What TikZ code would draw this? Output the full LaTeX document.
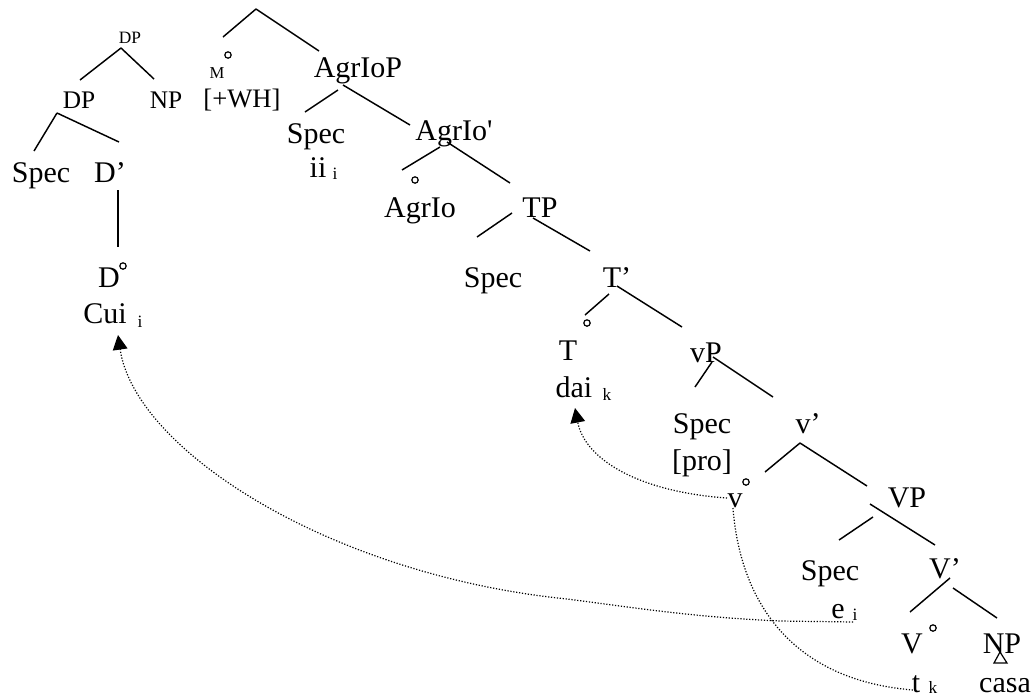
\documentclass[tikz,border=0pt]{standalone}
\usepackage{fontspec}
\setmainfont{Liberation Serif}
\usetikzlibrary{arrows.meta}
\begin{document}
\begin{tikzpicture}[x=0.75pt,y=-0.75pt,
 lbl/.style={anchor=base,inner sep=0pt,font=\fontsize{22.5}{27}\selectfont},
 mid/.style={anchor=base,inner sep=0pt,font=\fontsize{19}{23}\selectfont},
 whs/.style={anchor=base,inner sep=0pt,font=\fontsize{20}{24}\selectfont},
 sml/.style={anchor=base,inner sep=0pt,font=\fontsize{13}{16}\selectfont},
 msm/.style={anchor=base,inner sep=0pt,font=\fontsize{12.5}{15}\selectfont},
 subs/.style={anchor=base,inner sep=0pt,font=\fontsize{13}{16}\selectfont},
 branch/.style={line width=1.1pt},
 degc/.style={line width=0.9pt},
 trace/.style={line width=0.9pt,dash pattern=on 0.9pt off 1.3pt},
 mover/.style={trace,-{Triangle[length=11pt,width=11pt]}}]
\useasboundingbox (0,0) rectangle (1036,697);

% ---- left DP tree
\node[sml] (dptop) at (130,43) {DP};
\node[mid] (dpmid) at (79,108) {DP};
\node[mid] (npleft) at (166,108) {NP};
\node[lbl] (spec1) at (41,182) {Spec};
\node[lbl] (dbar) at (110,182) {D’};
\node[lbl] (dhead) at (109,287) {D};
\node[lbl] (cui) at (105,323) {Cui};
\node[subs] (cuii) at (140,327) {i};
\draw[degc] (123,266) coordinate (dcirc) circle[radius=2.4pt];
\draw[branch] (121,48) coordinate (dpA) -- (80,80) coordinate (dpAl);
\draw[branch] (dpA) -- (154,79) coordinate (dpAr);
\draw[branch] (57,113) coordinate (dpB) -- (34,151) coordinate (dpBl);
\draw[branch] (dpB) -- (119,142) coordinate (dpBr);
\draw[branch] (118,190) coordinate (dbarV) -- (118,247) coordinate (dheadV);

% ---- main tree
\draw[branch] (256,9) coordinate (topA) -- (223,37) coordinate (topL);
\draw[branch] (topA) -- (319,51) coordinate (topR);
\node[msm] (mhead) at (217,78) {M};
\draw[degc] (228,55) coordinate (mcirc) circle[radius=2.4pt];
\node[whs] (wh) at (242,107) {[+WH]};
\node[lbl] (agriop) at (358,77) {AgrIoP};
\draw[branch] (338,90) coordinate (aA1) -- (305,112) coordinate (aL);
\draw[branch] (343,85) coordinate (aA2) -- (410,125) coordinate (aR);
\node[lbl] (spec2) at (316,143) {Spec};
\node[lbl] (ii) at (318,177) {ii};
\node[subs] (iii) at (335,179) {i};
\node[lbl] (agriobar) at (454,140) {AgrIo\textquotesingle};
\draw[branch] (440,147) coordinate (bA1) -- (402,170) coordinate (bL);
\draw[branch] (447,142) coordinate (bA2) -- (510,183) coordinate (bR);
\draw[degc] (415,180) coordinate (agcirc) circle[radius=2.4pt];
\node[lbl] (agrio) at (420,217) {AgrIo};
\node[lbl] (tp) at (540,217) {TP};
\draw[branch] (512,213) coordinate (cA1) -- (477,237) coordinate (cL);
\draw[branch] (533,218) coordinate (cA2) -- (590,251) coordinate (cR);
\node[lbl] (spec3) at (493,287) {Spec};
\node[lbl] (tbar) at (617,287) {T’};
\draw[branch] (609,294) coordinate (dA1) -- (585,315) coordinate (dL);
\draw[branch] (617,286) coordinate (dA2) -- (682,327) coordinate (dR);
\draw[degc] (587,323) coordinate (tcirc) circle[radius=2.4pt];
\node[lbl] (thead) at (568,360) {T};
\node[lbl] (dai) at (574,397) {dai};
\node[subs] (daik) at (607,400) {k};
\node[lbl] (vp) at (706,362) {vP};
\draw[branch] (712,362) coordinate (eA1) -- (695,387) coordinate (eL);
\draw[branch] (713,357) coordinate (eA2) -- (773,397) coordinate (eR);
\node[lbl] (spec5) at (702,433) {Spec};
\node[lbl] (pro) at (702,470) {[pro]};
\node[lbl] (vbar) at (808,433) {v’};
\draw[branch] (800,443) coordinate (fA) -- (765,472) coordinate (fL);
\draw[branch] (fA) -- (867,486) coordinate (fR);
\node[lbl] (vhead) at (735,507) {v};
\draw[degc] (746,482) coordinate (vcirc) circle[radius=2.4pt];
\node[lbl] (VP) at (907,507) {VP};
\draw[branch] (873,517) coordinate (gA1) -- (839,540) coordinate (gL);
\draw[branch] (870,504) coordinate (gA2) -- (935,545) coordinate (gR);
\node[lbl] (spec4) at (830,580) {Spec};
\node[lbl] (e) at (838,618) {e};
\node[subs] (ei) at (855,620) {i};
\node[lbl] (Vbar) at (945,578) {V’};
\draw[branch] (950,578) coordinate (hA1) -- (910,612) coordinate (hL);
\draw[branch] (953,588) coordinate (hA2) -- (997,618) coordinate (hR);
\node[lbl] (Vhead) at (912,653) {V};
\draw[degc] (933,628) coordinate (Vcirc) circle[radius=2.4pt];
\node[lbl] (np) at (1002,653) {NP};
\draw[line width=0.9pt] (994,663) coordinate (triL) -- (1007,663) coordinate (triR) -- (1000,652) coordinate (triT) -- cycle;
\node[lbl] (t) at (916,692) {t};
\node[subs] (tk) at (933,693) {k};
\node[lbl] (casa) at (1005,692) {casa};

% ---- movement traces
\coordinate (eEnd) at (853,622);
\coordinate (cuiArr) at (118,335);
\coordinate (vLeft) at (727,498);
\coordinate (daiArr) at (575,408);
\coordinate (vBot) at (733,508);
\coordinate (tEnd) at (913,690);
\draw[mover] (eEnd) -- (780,621) .. controls (690,617) and (630,607) .. (567,599)
  .. controls (330,575) and (135,450) .. (cuiArr);
\draw[mover] (vLeft) .. controls (640,492) and (585,460) .. (daiArr);
\draw[trace] (vBot) .. controls (740,600) and (790,680) .. (tEnd);
\end{tikzpicture}
\end{document}
